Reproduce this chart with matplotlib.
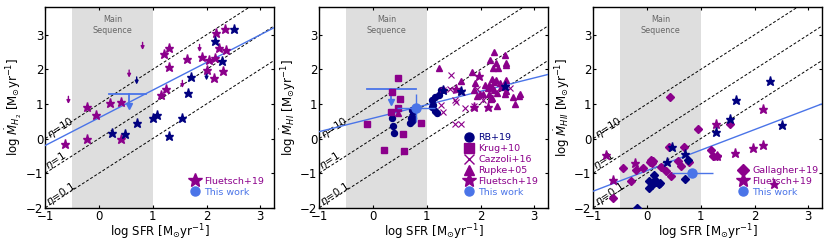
import numpy as np
import matplotlib
matplotlib.use('Agg')
import matplotlib.pyplot as plt
from matplotlib.lines import Line2D

MAG = '#8b008b'
NAVY = '#000080'
BLUE = '#4a74e8'

# ---------------- panel 1 : H2 ----------------
h2_star_m_x = [1.30, 1.20, 1.30, 1.63, 1.92, 2.05, 2.18, 2.34, 2.23, 2.37, 2.15, 2.01, 2.31, 2.13,
               1.25, 1.16, 0.41, 0.20, -0.22, -0.05, -0.22, -0.63, 0.41]
h2_star_m_y = [2.61, 2.44, 2.08, 2.30, 2.37, 2.27, 3.05, 3.18, 2.63, 2.56, 2.33, 1.99, 1.96, 1.75,
               1.44, 1.27, 1.05, 1.04, 0.90, 0.69, -0.01, -0.16, -0.01]
h2_star_n_x = [2.51, 2.16, 2.29, 1.71, 1.65, 0.71, 1.00, 1.08, 1.55, 1.30, 0.25, 0.49]
h2_star_n_y = [3.17, 2.83, 2.25, 1.77, 1.32, 0.46, 0.59, 0.69, 0.59, 0.07, 0.17, 0.14]
h2_lim_m_x = [0.81, 0.56, -0.57, 1.87, 1.55]
h2_lim_m_y = [2.78, 1.98, 1.22, 2.72, 1.68]
h2_lim_n_x = [0.70, 2.00, 2.00]
h2_lim_n_y = [1.78, 2.02, 1.90]
h2_fit = [-0.2, 3.2]
h2_tw = dict(x=0.55, y=1.29, xlo=0.37, xhi=0.32, ytip=0.94)

# ---------------- panel 2 : HI ----------------
hi_rb_x = [0.36, 0.37, 0.39, 0.70, 0.72, 0.68, 0.75, 0.72, 0.75, 0.73, 0.75,
           1.10, 1.16, 1.22, 1.12, 1.10, 1.16, 1.19, 1.26]
hi_rb_y = [0.60, 0.35, 0.16, 0.60, 0.55, 0.45, 0.58, 0.50, 0.81, 0.83, 0.78,
           1.12, 1.19, 1.25, 0.98, 0.91, 0.81, 0.75, 1.40]
hi_krug_x = [0.46, 0.36, 0.50, 0.46, 0.33, -0.12, 0.89, 0.56, 0.20, 0.57]
hi_krug_y = [1.74, 1.34, 1.13, 0.89, 0.78, 0.43, 0.45, 0.14, -0.32, -0.36]
hi_caz_x = [1.45, 1.30, 1.43, 1.58, 1.65, 1.94, 2.00, 1.27, 1.52, 1.72, 1.30, 1.52, 1.64,
            1.88, 2.55, 1.55, 2.05]
hi_caz_y = [1.85, 1.40, 1.42, 1.41, 1.34, 1.43, 1.23, 0.98, 1.12, 0.88, 0.76, 0.41, 0.41,
            0.95, 1.45, 1.05, 1.10]
hi_rup_x = [2.26, 2.46, 2.18, 2.47, 2.47, 2.28, 1.23, 1.85, 2.24, 2.33, 1.63, 2.22, 2.25, 2.28,
            2.47, 2.16, 2.22, 2.38, 2.43, 2.14, 1.87, 1.93, 1.99, 2.05, 2.25, 2.31, 2.22, 2.19,
            2.48, 2.45, 2.60, 2.64, 2.74, 2.72, 2.16, 2.19, 2.30, 1.30, 0.47, 1.90, 2.08, 2.36]
hi_rup_y = [2.51, 2.41, 2.28, 2.19, 2.13, 2.18, 2.03, 1.91, 2.04, 2.05, 1.67, 1.72, 1.63, 1.70,
            1.70, 1.55, 1.48, 1.48, 1.52, 1.45, 1.40, 1.23, 1.28, 1.30, 1.40, 1.33, 1.18, 1.15,
            1.37, 1.28, 1.21, 1.00, 1.28, 1.23, 1.28, 1.18, 0.94, 1.43, 0.74, 1.60, 1.55, 1.60]
hi_star_m_x = [1.98, 1.88, 2.14, 1.54]
hi_star_m_y = [1.81, 0.92, 0.90, 1.44]
hi_star_n_x = [1.30, 1.64, 2.45]
hi_star_n_y = [1.40, 1.38, 1.52]
hi_fit = [0.2, 1.85]
hi_tw_lim = dict(x=0.33, y=1.43, xlo=0.45, xhi=0.47, ytip=1.06)
hi_tw_pt = dict(x=0.80, y=0.88, xerr=0.35, ylo=0.40, yhi=0.40)

# ---------------- panel 3 : HII ----------------
hii_gal_m_x = [0.42, 0.95, 1.55, 1.18, 1.22, 1.30, 0.41, 0.69, 0.07, 0.11, 0.05, 0.09,
               -0.44, -0.21, -0.07, 0.25, 0.35, 0.45, 0.57, 0.64, 0.78, -0.63, -0.29]
hii_gal_m_y = [1.21, 0.28, 0.41, -0.32, -0.50, -0.50, -0.25, -0.25, -0.62, -0.66, -0.68, -0.71,
               -0.85, -0.90, -0.85, -0.81, -0.95, -1.07, -0.65, -0.80, -0.68, -1.72, -1.23]
hii_gal_n_x = [0.77, 0.70, 0.13, 0.14, 0.04, 0.04, 0.17, 0.23, -0.18, 0.24, 0.10]
hii_gal_n_y = [-0.61, -1.17, -1.06, -1.21, -1.24, -1.42, -1.27, -1.32, -2.00, -1.30, -1.33]
hii_star_m_x = [2.16, 1.29, 2.15, 1.97, 1.63, 1.31, -0.23, -0.63, -0.76, 2.36]
hii_star_m_y = [0.84, 0.41, -0.19, -0.28, -0.41, -0.50, -0.70, -1.19, -0.47, -1.32]
hii_star_n_x = [2.29, 1.65, 1.55, 1.29, 2.51, 0.47, 0.37, 0.70]
hii_star_n_y = [1.67, 1.12, 0.57, 0.19, 0.40, -0.25, -0.69, -0.44]
hii_fit = [-1.52, 1.0]
hii_tw = dict(x=0.84, y=-0.99, xerr=0.38)

xlim = (-1, 3.25)
ylim = (-2, 3.8)
FS = 8.5


def base(ax, ylabel):
    ax.axvspan(-0.5, 1.0, color='#dedede', zorder=0, lw=0)
    ax.text(0.25, 3.28, 'Main\nSequence', ha='center', va='center', fontsize=5.8,
            color='#666666', linespacing=1.2)
    xx = np.array(xlim)
    for off in [1, 0, -1]:
        ax.plot(xx, xx + off, ls='--', color='k', lw=0.7, dashes=(3, 2), zorder=1)
    ax.text(-0.72, 0.30, r'$\eta$=10', rotation=33, ha='center', va='center', fontsize=7.5)
    ax.text(-0.80, -0.66, r'$\eta$=1', rotation=33, ha='center', va='center', fontsize=7.5)
    ax.text(-0.70, -1.62, r'$\eta$=0.1', rotation=33, ha='center', va='center', fontsize=7.5)
    ax.set_xlim(*xlim)
    ax.set_ylim(*ylim)
    ax.set_xticks([-1, 0, 1, 2, 3])
    ax.set_yticks([-2, -1, 0, 1, 2, 3])
    ax.tick_params(direction='in', top=True, right=True, labelsize=FS, length=2.5, width=0.8, pad=1.5)
    for s in ax.spines.values():
        s.set_linewidth(1.0)
    ax.set_xlabel(r'log SFR [M$_{\odot}$yr$^{-1}$]', fontsize=FS, labelpad=0)
    ax.set_ylabel(ylabel, fontsize=FS, labelpad=1)


def fit_line(ax, ends):
    ax.plot(xlim, ends, color=BLUE, lw=1.0, zorder=3)


def arrows(ax, xs, ys, c):
    for x, y in zip(xs, ys):
        ax.annotate('', xy=(x, y - 0.22), xytext=(x, y),
                    arrowprops=dict(arrowstyle='-|>', color=c, lw=1.0,
                                    mutation_scale=5, shrinkA=0, shrinkB=0))


def upper_lim(ax, d):
    ax.plot([d['x'] - d['xlo'], d['x'] + d['xhi']], [d['y'], d['y']], color=BLUE, lw=1.3, zorder=4)
    ax.plot([d['x'], d['x']], [d['y'], d['ytip']], color=BLUE, lw=1.3, zorder=4)
    ax.plot(d['x'], d['ytip'], marker='v', color=BLUE, ms=5, zorder=4)


def legend(ax, entries):
    h = []
    for mk, c, lab, ms in entries:
        h.append(Line2D([], [], marker=mk, color=c, ls='none', ms=ms, label=lab))
    leg = ax.legend(handles=h, loc='lower left', bbox_to_anchor=(0.625, 0.055),
                    frameon=False, fontsize=6.8, handletextpad=0.2, borderaxespad=0,
                    borderpad=0, labelspacing=0.2, handlelength=1.5)
    for t, e in zip(leg.get_texts(), entries):
        t.set_color(e[1])


fig = plt.figure(figsize=(8.31, 2.42), dpi=100)
w, hgt, b = 0.2749, 0.829, 0.1417
ax1 = fig.add_axes([0.0545, b, w, hgt])
ax2 = fig.add_axes([0.3842, b, w, hgt])
ax3 = fig.add_axes([0.714, b, w, hgt])

MS = 6.5

# panel 1
base(ax1, r'log $\dot{M}_{H_2}$ [M$_{\odot}$yr$^{-1}$]')
fit_line(ax1, h2_fit)
ax1.plot(h2_star_m_x, h2_star_m_y, '*', color=MAG, ms=MS, ls='none', zorder=5)
ax1.plot(h2_star_n_x, h2_star_n_y, '*', color=NAVY, ms=MS, ls='none', zorder=5)
arrows(ax1, h2_lim_m_x, h2_lim_m_y, MAG)
arrows(ax1, h2_lim_n_x, h2_lim_n_y, NAVY)
upper_lim(ax1, h2_tw)
legend(ax1, [('*', MAG, 'Fluetsch+19', 10), ('o', BLUE, 'This work', 6.5)])

# panel 2
base(ax2, r'log $\dot{M}_{HI}$ [M$_{\odot}$yr$^{-1}$]')
fit_line(ax2, hi_fit)
ax2.plot(hi_rb_x, hi_rb_y, 'o', color=NAVY, ms=4.3, ls='none', zorder=5)
ax2.plot(hi_krug_x, hi_krug_y, 's', color=MAG, ms=4.3, ls='none', zorder=5)
ax2.plot(hi_caz_x, hi_caz_y, 'x', color=MAG, ms=4.3, mew=0.8, ls='none', zorder=5)
ax2.plot(hi_rup_x, hi_rup_y, '^', color=MAG, ms=4.3, ls='none', zorder=5)
ax2.plot(hi_star_m_x, hi_star_m_y, '*', color=MAG, ms=MS, ls='none', zorder=5)
ax2.plot(hi_star_n_x, hi_star_n_y, '*', color=NAVY, ms=MS, ls='none', zorder=5)
upper_lim(ax2, hi_tw_lim)
p = hi_tw_pt
ax2.errorbar(p['x'], p['y'], xerr=p['xerr'], yerr=[[p['ylo']], [p['yhi']]], fmt='o',
             color=BLUE, ms=6.5, lw=1.0, capsize=0, zorder=6)
legend(ax2, [('o', NAVY, 'RB+19', 6.5), ('s', MAG, 'Krug+10', 6.5), ('x', MAG, 'Cazzoli+16', 6.5),
             ('^', MAG, 'Rupke+05', 6.5), ('*', MAG, 'Fluetsch+19', 10), ('o', BLUE, 'This work', 6.5)])

# panel 3
base(ax3, r'log $\dot{M}_{HII}$ [M$_{\odot}$yr$^{-1}$]')
fit_line(ax3, hii_fit)
ax3.plot(hii_gal_m_x, hii_gal_m_y, 'D', color=MAG, ms=4.5, ls='none', zorder=5)
ax3.plot(hii_gal_n_x, hii_gal_n_y, 'D', color=NAVY, ms=4.5, ls='none', zorder=5)
ax3.plot(hii_star_m_x, hii_star_m_y, '*', color=MAG, ms=MS, ls='none', zorder=5)
ax3.plot(hii_star_n_x, hii_star_n_y, '*', color=NAVY, ms=MS, ls='none', zorder=5)
ax3.errorbar(hii_tw['x'], hii_tw['y'], xerr=hii_tw['xerr'], fmt='o', color=BLUE, ms=6.5,
             lw=1.0, capsize=0, zorder=6)
legend(ax3, [('D', MAG, 'Gallagher+19', 6), ('*', MAG, 'Fluetsch+19', 10), ('o', BLUE, 'This work', 6.5)])

fig.savefig('out.png', dpi=100)
